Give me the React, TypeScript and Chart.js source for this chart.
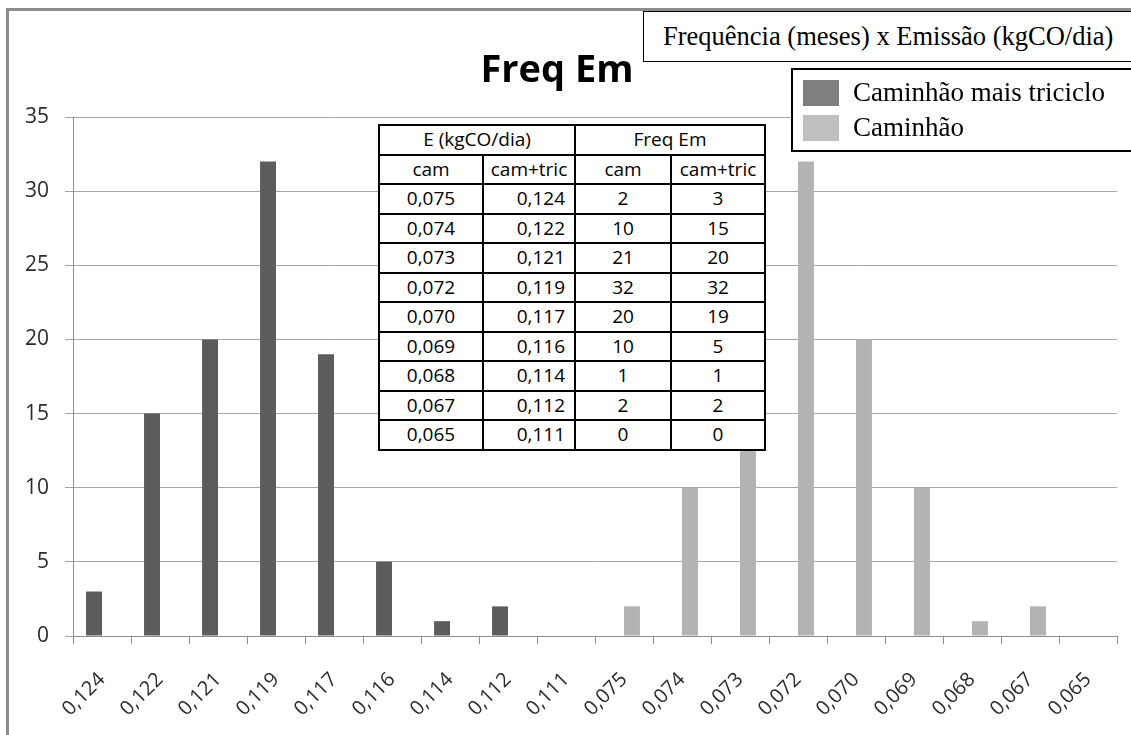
import React, { useEffect, useRef } from "react";
import { Chart, registerables } from "chart.js";

Chart.register(...registerables);

// ---- data ----
const triLabels = ["0,124", "0,122", "0,121", "0,119", "0,117", "0,116", "0,114", "0,112", "0,111"];
const camLabels = ["0,075", "0,074", "0,073", "0,072", "0,070", "0,069", "0,068", "0,067", "0,065"];
const triFreq = [3, 15, 20, 32, 19, 5, 1, 2, 0];
const camFreq = [2, 10, 21, 32, 20, 10, 1, 2, 0];
const yTicks = [0, 5, 10, 15, 20, 25, 30, 35];

const seriesNames = ["Caminhão mais triciclo", "Caminhão"];
const chartTitle = "Freq Em";
const boxTitle = "Frequência (meses) x Emissão (kgCO/dia)";

const categories = [...triLabels, ...camLabels];

const FONT = "'Open Sans', 'Noto Sans', sans-serif";
const SERIF = "'Liberation Serif', 'DejaVu Serif', serif";

export default function App() {
  const canvasRef = useRef<HTMLCanvasElement | null>(null);

  useEffect(() => {
    const canvas = canvasRef.current;
    if (!canvas) return;
    const nulls = triLabels.map(() => null);
    const chart = new Chart(canvas, {
      type: "bar",
      data: {
        labels: categories,
        datasets: [
          {
            label: seriesNames[0],
            data: [...triFreq, ...nulls],
            backgroundColor: "#5c5c5c",
            categoryPercentage: 0.55,
            barPercentage: 1,
          },
          {
            label: seriesNames[1],
            data: [...camLabels.map(() => null), ...camFreq],
            backgroundColor: "#b3b3b3",
            categoryPercentage: 0.55,
            barPercentage: 1,
          },
        ],
      },
      options: {
        responsive: false,
        animation: false,
        devicePixelRatio: 1,
        layout: { padding: { top: 117, right: 14, left: 0, bottom: 0 } },
        plugins: {
          legend: { display: false },
          title: { display: false },
          tooltip: { enabled: false },
        },
        scales: {
          x: {
            afterFit: (s: any) => {
              s.height = 99;
            },
            grid: {
              offset: true,
              drawOnChartArea: false,
              drawTicks: true,
              tickLength: 8,
              color: "#8c8c8c",
            },
            border: { color: "#8c8c8c", width: 1 },
            ticks: {
              autoSkip: false,
              maxRotation: 45,
              minRotation: 45,
              padding: 24,
              color: "#2b2b2b",
              font: { family: FONT, size: 20 },
            },
          },
          y: {
            min: 0,
            max: 35,
            afterFit: (s: any) => {
              s.width = 73;
            },
            afterBuildTicks: (s: any) => {
              s.ticks = yTicks.map((v) => ({ value: v }));
            },
            grid: {
              color: "#a6a6a6",
              tickLength: 8,
            },
            border: { color: "#8c8c8c", width: 1 },
            ticks: {
              padding: 16,
              color: "#2b2b2b",
              font: { family: FONT, size: 21 },
            },
          },
        },
      },
    });
    return () => chart.destroy();
  }, []);

  const cell: React.CSSProperties = {
    border: "2px solid #000",
    height: 27.5,
    padding: 0,
    textAlign: "center",
    verticalAlign: "middle",
    lineHeight: "27px",
    fontFamily: FONT,
    fontSize: 19,
    color: "#000",
  };

  return (
    <div
      style={{
        position: "fixed",
        left: 0,
        top: 0,
        width: 1131,
        height: 735,
        overflow: "hidden",
        background: "#fff",
        fontFamily: FONT,
      }}
    >
      <canvas ref={canvasRef} width={1131} height={735} style={{ position: "absolute", left: 0, top: 0 }} />
      {/* outer chart frame */}
      <div
        style={{
          position: "absolute",
          left: 6,
          top: 8,
          width: 1140,
          height: 740,
          borderLeft: "3px solid #8c8c8c",
          borderTop: "3px solid #8c8c8c",
          pointerEvents: "none",
        }}
      />
      {/* title */}
      <div
        style={{
          position: "absolute",
          left: 357,
          top: 42,
          width: 400,
          textAlign: "center",
          fontWeight: 700,
          fontSize: 38,
          color: "#000",
          lineHeight: "50px",
        }}
      >
        {chartTitle}
      </div>
      {/* table */}
      <table
        style={{
          position: "absolute",
          left: 378,
          top: 124,
          width: 386,
          borderCollapse: "collapse",
          tableLayout: "fixed",
          background: "#fff",
          fontFamily: FONT,
          fontSize: 19,
          color: "#000",
        }}
      >
        <colgroup>
          <col style={{ width: 104 }} />
          <col style={{ width: 92 }} />
          <col style={{ width: 96 }} />
          <col style={{ width: 94 }} />
        </colgroup>
        <tbody>
          <tr>
            <td style={cell} colSpan={2}>E (kgCO/dia)</td>
            <td style={cell} colSpan={2}>Freq Em</td>
          </tr>
          <tr>
            <td style={cell}>cam</td>
            <td style={cell}>cam+tric</td>
            <td style={cell}>cam</td>
            <td style={cell}>cam+tric</td>
          </tr>
          {camLabels.map((c, i) => (
            <tr key={c}>
              <td style={cell}>{c}</td>
              <td style={{ ...cell, textAlign: "right", paddingRight: 9 }}>{triLabels[i]}</td>
              <td style={cell}>{camFreq[i]}</td>
              <td style={cell}>{triFreq[i]}</td>
            </tr>
          ))}
        </tbody>
      </table>
      {/* text box */}
      <div
        style={{
          position: "absolute",
          left: 643,
          top: 11,
          width: 500,
          height: 51,
          border: "1.5px solid #000",
          background: "#fff",
          fontFamily: SERIF,
          fontSize: 26.5,
          lineHeight: "48px",
          paddingLeft: 19,
          boxSizing: "border-box",
          color: "#000",
          whiteSpace: "nowrap",
        }}
      >
        {boxTitle}
      </div>
      {/* legend */}
      <div
        style={{
          position: "absolute",
          left: 791,
          top: 68,
          width: 360,
          height: 84,
          border: "2px solid #000",
          background: "#fff",
          boxSizing: "border-box",
          fontFamily: SERIF,
          fontSize: 27,
          color: "#000",
        }}
      >
        {seriesNames.map((n, i) => (
          <div key={n} style={{ position: "absolute", left: 10, top: 9 + i * 35, height: 27, display: "flex", alignItems: "center", whiteSpace: "nowrap" }}>
            <span style={{ display: "inline-block", width: 36, height: 26, background: i === 0 ? "#7f7f7f" : "#bfbfbf", marginRight: 14 }} />
            <span>{n}</span>
          </div>
        ))}
      </div>
    </div>
  );
}
